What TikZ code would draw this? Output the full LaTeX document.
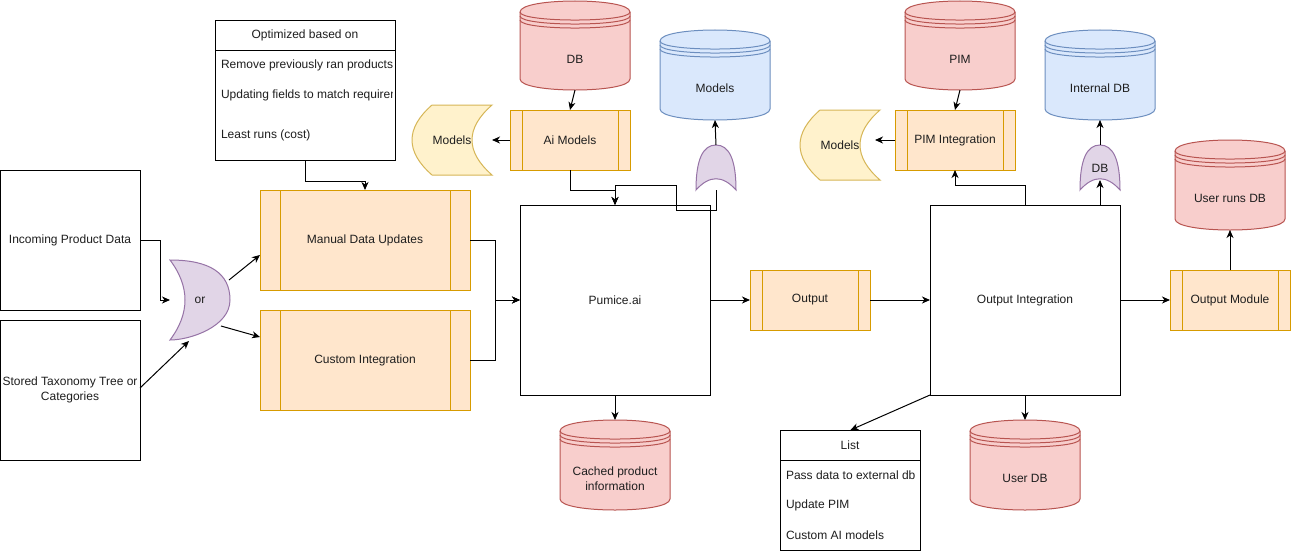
\documentclass[tikz,border=0pt]{standalone}
\usepackage{fontspec}
\setmainfont{Liberation Sans}
\usetikzlibrary{arrows.meta,calc}
\definecolor{redF}{HTML}{F8CECC}
\definecolor{redD}{HTML}{B85450}
\definecolor{blueF}{HTML}{DAE8FC}
\definecolor{blueD}{HTML}{6C8EBF}
\definecolor{yelF}{HTML}{FFF2CC}
\definecolor{yelD}{HTML}{D6B656}
\definecolor{orgF}{HTML}{FFE6CC}
\definecolor{orgD}{HTML}{D79B00}
\definecolor{purF}{HTML}{E1D5E7}
\definecolor{purD}{HTML}{9673A6}
\definecolor{txtc}{HTML}{1E1E1E}

\tikzset{
  txt/.style={font=\fontsize{12}{15}\selectfont, text=txtc, inner sep=0pt, outer sep=0pt},
  plainbox/.style={draw=black, line width=1pt, fill=white, txt, align=center},
  proc/.style={draw=orgD, fill=orgF, line width=1pt, txt, align=center,
    path picture={\draw[orgD, line width=1pt]
      ([xshift=#1]path picture bounding box.north west) -- ([xshift=#1]path picture bounding box.south west)
      ([xshift=-#1]path picture bounding box.north east) -- ([xshift=-#1]path picture bounding box.south east);}},
  proc/.default=12pt,
  arr/.style={draw=black, line width=1pt, -{Stealth[length=8pt,width=7pt,inset=2.4pt]}},
  ln/.style={draw=black, line width=1pt},
}

% cylinder (datastore): name, x, y, w, h, fill, draw, text
\newcommand{\cylshape}[8]{%
  \path[fill=#6,draw=#7,line width=1pt] (#2,#3+11) .. controls (#2,#3-3.67) and (#2+#4,#3-3.67) .. (#2+#4,#3+11)
     -- (#2+#4,#3+#5-11) .. controls (#2+#4,#3+#5+3.67) and (#2,#3+#5+3.67) .. (#2,#3+#5-11) -- cycle;
  \foreach \k in {0,4,8}{\draw[#7,line width=1pt] (#2,#3+11+\k) .. controls (#2,#3+21.7+\k) and (#2+#4,#3+21.7+\k) .. (#2+#4,#3+11+\k);}
  \node[inner sep=0, outer sep=0, minimum width=#4pt, minimum height=#5pt, anchor=north west] (#1) at (#2,#3) {};
  \node[txt, align=center] (#1-t) at (#2+#4/2,#3+58.5) {#8};
}
% data storage: name, x, y, w, h, text
\newcommand{\storshape}[6]{%
  \path[fill=yelF,draw=yelD,line width=1pt] (#2+#4/4,#3) -- (#2+#4,#3)
    .. controls (#2+2*#4/3,#3+#5/3) and (#2+2*#4/3,#3+2*#5/3) .. (#2+#4,#3+#5)
    -- (#2+#4/4,#3+#5)
    .. controls (#2-#4/12,#3+2*#5/3) and (#2-#4/12,#3+#5/3) .. (#2+#4/4,#3) -- cycle;
  \node[inner sep=0, outer sep=0, minimum width=#4pt, minimum height=#5pt, anchor=north west] (#1) at (#2,#3) {};
  \node[txt] (#1-t) at (#2+#4/2,#3+#5/2+0.5) {#6};
}
% xor pointing right: name, x, y, w, h, text
\newcommand{\xorright}[6]{%
  \path[fill=purF,draw=purD,line width=1pt] (#2,#3)
    .. controls (#2+2*#4/3,#3) and (#2+#4,#3+#5/6) .. (#2+#4,#3+#5/2)
    .. controls (#2+#4,#3+5*#5/6) and (#2+#4/3,#3+#5) .. (#2,#3+#5)
    .. controls (#2+#4/3,#3+2*#5/3) and (#2+#4/3,#3+#5/3) .. (#2,#3) -- cycle;
  \node[inner sep=0, outer sep=0, minimum width=#4pt, minimum height=#5pt, anchor=north west] (#1) at (#2,#3) {};
  \node[txt] (#1-t) at (#2+#4/2,#3+#5/2+0.5) {#6};
}
% xor pointing up: name, x, y, w, h, text
\newcommand{\xorup}[6]{%
  \path[fill=purF,draw=purD,line width=1pt] (#2,#3+#5)
    .. controls (#2,#3+#5/3) and (#2+#4/6,#3) .. (#2+#4/2,#3)
    .. controls (#2+5*#4/6,#3) and (#2+#4,#3+#5/3) .. (#2+#4,#3+#5)
    .. controls (#2+2*#4/3,#3+2*#5/3) and (#2+#4/3,#3+2*#5/3) .. (#2,#3+#5) -- cycle;
  \node[inner sep=0, outer sep=0, minimum width=#4pt, minimum height=#5pt, anchor=north west] (#1) at (#2,#3) {};
  \node[txt] (#1-t) at (#2+#4/2,#3+#5/2+0.5) {#6};
}

\begin{document}
\begin{tikzpicture}[x=1pt,y=-1pt]
\useasboundingbox[fill=white] (0,0) rectangle (1291,552);

% ---------- left side ----------
\node[plainbox, minimum width=140pt, minimum height=140pt] (inc) at (70,240) {Incoming Product Data};
\node[plainbox, minimum width=140pt, minimum height=140pt] (tax) at (70,390) {Stored Taxonomy Tree or\\Categories};

\node[draw=black, line width=1pt, fill=white, minimum width=180pt, minimum height=140pt, anchor=north west, inner sep=0] (opt) at (215,20) {};
\draw[ln] ($(opt.north west)+(0,30)$) -- ($(opt.north east)+(0,30)$);
\node[txt] (opth) at (305,35.5) {Optimized based on};
\begin{scope}
  \clip (216,51) rectangle (392,159);
  \node[txt, anchor=west] (opt1) at (221,65.5) {Remove previously ran products};
  \node[txt, anchor=west] (opt2) at (221,95.5) {Updating fields to match requirements};
  \node[txt, anchor=west] (opt3) at (221,135.5) {Least runs (cost)};
\end{scope}

\xorright{or1}{170}{260}{60}{80}{or}

\node[proc=20pt, minimum width=210pt, minimum height=100pt] (manual) at (365,240) {Manual Data Updates};
\node[proc=20pt, minimum width=210pt, minimum height=100pt] (custom) at (365,360) {Custom Integration};

% ---------- middle ----------
\cylshape{dbtop}{520}{1}{110}{89}{redF}{redD}{DB}
\node[proc, minimum width=120pt, minimum height=60pt] (aimodels) at (570,140) {Ai Models};
\storshape{models1}{412}{105}{80}{70}{Models}
\cylshape{models2}{660}{30}{110}{90}{blueF}{blueD}{Models}
\xorup{or2}{696}{145}{40}{45}{}

\node[plainbox, minimum width=190pt, minimum height=190pt] (pumice) at (615,300) {Pumice.ai};
\cylshape{cached}{560}{420}{110}{90}{redF}{redD}{Cached product\\information}
\node[proc, minimum width=120pt, minimum height=60pt] (output) at (810,300) {Output};

% ---------- right side ----------
\cylshape{pimdb}{905}{1}{110}{89}{redF}{redD}{PIM}
\node[proc, minimum width=120pt, minimum height=60pt] (pimint) at (955,140) {PIM Integration};
\storshape{models3}{800}{110}{80}{70}{Models}
\cylshape{intdb}{1045}{30}{110}{90}{blueF}{blueD}{Internal DB}
\xorup{or3}{1080}{145}{40}{45}{DB}

\node[plainbox, minimum width=190pt, minimum height=190pt] (outint) at (1025,300) {Output Integration};
\node[proc, minimum width=120pt, minimum height=60pt] (outmod) at (1230,300) {Output Module};
\cylshape{userruns}{1175}{140}{110}{90}{redF}{redD}{User runs DB}
\cylshape{userdb}{970}{420}{110}{90}{redF}{redD}{User DB}

\node[draw=black, line width=1pt, fill=white, minimum width=140pt, minimum height=120pt, anchor=north west, inner sep=0] (list) at (780,430) {};
\draw[ln] ($(list.north west)+(0,30)$) -- ($(list.north east)+(0,30)$);
\node[txt] (listh) at (850,445.5) {List};
\node[txt, anchor=west] (list1) at (786,475.5) {Pass data to external db};
\node[txt, anchor=west] (list2) at (786,505.5) {Update PIM};
\node[txt, anchor=west] (list3) at (786,535.5) {Custom AI models};

% ---------- connectors ----------
\draw[arr] (opt.south) -- ++(0,20) -| (manual.north);
\draw[arr] (inc.east) -- ++(20,0) |- (or1.west);
\draw[arr] ($(tax.east)+(0,-2)$) -- ($(or1.south)+(-11,1)$);
\draw[arr] ($(or1.east)+(-1,-20)$) -- ($(manual.west)+(0,15)$);
\draw[arr] ($(or1.east)+(-9,26)$) -- ($(custom.west)+(0,-23)$);
\draw[arr] (manual.east) -- ++(25,0) |- (pumice.west);
\draw[arr] (custom.east) -- ++(25,0) |- (pumice.west);

\draw[arr] (dbtop.south) -- (aimodels.north);
\draw[arr] (aimodels.west) -- (models1.east);
\draw[arr] (aimodels.south) -- ++(0,20) -| (pumice.north);
\draw[arr] (or2.south) -- ++(0,20) -- ++(-40,0) |- ($(pumice.north)+(0,-20)$) -- (pumice.north);
\draw[arr] (or2.north) -- (models2.south);

\draw[arr] (pumice.east) -- (output.west);
\draw[arr] (pumice.south) -- (cached.north);
\draw[arr] (output.east) -- (outint.west);

\draw[arr] (pimdb.south) -- (pimint.north);
\draw[arr] (pimint.west) -- ($(pimint.west)+(-20,0)$);
\draw[arr] (outint.north) -- ++(0,-20) -| (pimint.south);
\draw[arr] ($(outint.north east)+(-20,0)$) -- ($(or3.south)+(0,-10)$);
\draw[arr] (or3.north) -- (intdb.south);

\draw[arr] (outint.south west) -- (list.north);
\draw[arr] (outint.south) -- (userdb.north);
\draw[arr] (outint.east) -- (outmod.west);
\draw[arr] (outmod.north) -- (userruns.south);
\end{tikzpicture}
\end{document}
